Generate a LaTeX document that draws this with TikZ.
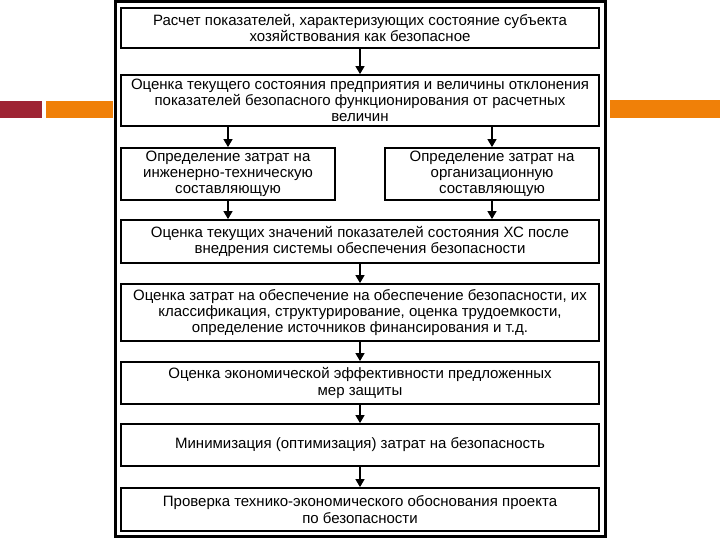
\documentclass[tikz,border=0pt]{standalone}
\usepackage{fontspec}
\setmainfont{Liberation Sans}
\usetikzlibrary{arrows.meta}
\definecolor{darkred}{RGB}{158,36,52}
\definecolor{barorange}{RGB}{240,128,8}
\tikzset{
  box/.style={draw=black, line width=1.8pt, align=center, inner sep=0pt,
    font=\fontsize{15}{16.3}\selectfont, anchor=center},
  arr/.style={line width=1.3pt, -{Triangle[width=9pt,length=8pt]}},
  bar/.style={fill=#1, draw=none}
}
\begin{document}
\begin{tikzpicture}[x=1pt,y=-1pt]
\useasboundingbox (0,0) rectangle (720,540);
% side bars
\fill[darkred] (0,101) rectangle (42,118);
\fill[barorange] (46,101) rectangle (113,118);
\fill[barorange] (610,100) rectangle (720,118);
% outer frame
\fill[white] (115,1) rectangle (605,537);
\draw[line width=3pt] (115,1.5) rectangle (605,536.5);
% boxes
\node[box, minimum width=478pt, minimum height=40pt] (b1) at (360,28)
  {Расчет показателей, характеризующих состояние субъекта\\хозяйствования как безопасное};
\node[box, minimum width=478pt, minimum height=51pt] (b2) at (360,100.5)
  {Оценка текущего состояния предприятия и величины отклонения\\показателей безопасного функционирования от расчетных\\величин};
\node[box, minimum width=214pt, minimum height=52pt] (b3a) at (228,174)
  {Определение затрат на\\инженерно-техническую\\составляющую};
\node[box, minimum width=214pt, minimum height=52pt] (b3b) at (492,174)
  {Определение затрат на\\организационную\\составляющую};
\node[box, minimum width=478pt, minimum height=43pt] (b4) at (360,241.5)
  {Оценка текущих значений показателей состояния ХС после\\внедрения системы обеспечения безопасности};
\node[box, minimum width=478pt, minimum height=57pt] (b5) at (360,312.5)
  {Оценка затрат на обеспечение на обеспечение безопасности, их\\классификация, структурирование, оценка трудоемкости,\\определение источников финансирования и т.д.};
\node[box, minimum width=478pt, minimum height=42pt] (b6) at (360,383)
  {Оценка экономической эффективности предложенных\\мер защиты};
\node[box, minimum width=478pt, minimum height=42pt] (b7) at (360,445)
  {Минимизация (оптимизация) затрат на безопасность};
\node[box, minimum width=478pt, minimum height=43pt] (b8) at (360,509.5)
  {Проверка технико-экономического обоснования проекта\\по безопасности};
% arrows
\draw[arr] (b1.south) -- (b2.north);
\draw[arr] (b2.south -| b3a.north) -- (b3a.north);
\draw[arr] (b2.south -| b3b.north) -- (b3b.north);
\draw[arr] (b3a.south) -- (b3a.south |- b4.north);
\draw[arr] (b3b.south) -- (b3b.south |- b4.north);
\draw[arr] (b4.south) -- (b5.north);
\draw[arr] (b5.south) -- (b6.north);
\draw[arr] (b6.south) -- (b7.north);
\draw[arr] (b7.south) -- (b8.north);
\end{tikzpicture}
\end{document}
